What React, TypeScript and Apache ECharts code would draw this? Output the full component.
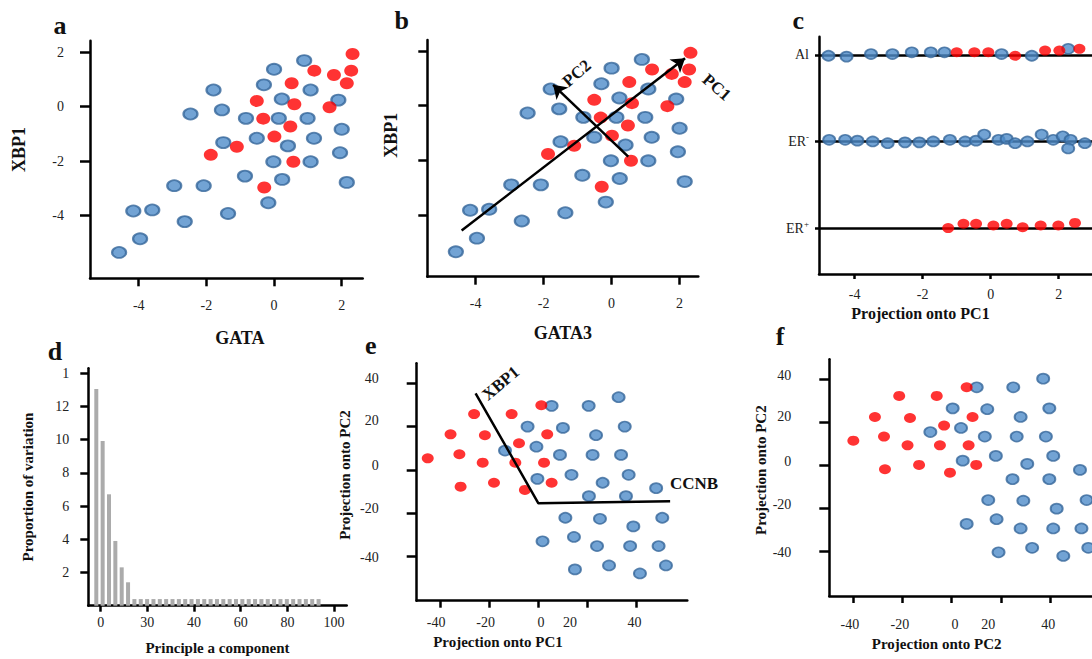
import React, { useEffect, useRef } from "react";
import * as echarts from "echarts";

const FONT = '"Liberation Serif", "Times New Roman", serif';
const BLUE = { color: "#4f8cc9", borderColor: "#36679a", borderWidth: 2 };
const RED = { color: "#ff0000" };

// ---- panel a / b : XBP1 vs GATA3 ----
const A_BLUE: [number, number][] = [
  [-4.58, -5.35], [-3.96, -4.85], [-4.16, -3.83], [-3.6, -3.79], [-2.64, -4.22], [-2.95, -2.9],
  [-2.08, -2.9], [-1.36, -3.92], [-2.47, -0.27], [-1.79, 0.61], [-1.54, -0.12], [-1.5, -1.32],
  [-0.86, -2.55], [-0.83, -0.43], [-0.51, -1.16], [-0.3, 0.8], [0.0, 1.37], [-0.02, -2.02],
  [-0.17, -3.53], [0.14, -0.43], [0.23, 0.28], [0.24, -2.67], [0.41, -1.44], [0.89, 1.69],
  [0.99, -0.43], [1.08, 0.61], [1.18, -1.16], [1.08, -2.02], [1.9, 0.24], [2.0, -0.83],
  [1.95, -1.69], [2.15, -2.78],
];
const A_RED: [number, number][] = [
  [2.32, 1.93], [2.28, 1.32], [2.15, 0.86], [1.77, 1.16], [1.19, 1.32], [1.64, -0.02],
  [0.52, 0.86], [0.6, 0.09], [0.48, -0.73], [-0.32, -0.44], [-0.51, 0.21], [0.01, -1.1],
  [0.57, -2.02], [-0.29, -2.97], [-1.1, -1.47], [-1.87, -1.77],
];
const AB_TICKS = [-4, -2, 0, 2];
const B_PC1: [number, number][] = [[-4.41, -4.57], [2.16, 1.73]];
const B_PC2: [number, number][] = [[0.49, -1.87], [-1.72, 0.76]];

// ---- panel c : projection onto PC1 by group ----
const C_ROWS = [0, 1, 2];
const C_ROW_LABELS = ["{b|ER}{s|+}", "{b|ER}{s|-}", "{b|Al}"];
const C_BLUE: [number, number][] = [
  [-4.77, 1.99], [-4.24, 1.98], [-3.52, 2.01], [-2.89, 2.01], [-2.32, 2.03], [-1.76, 2.03],
  [-1.36, 2.03], [0.32, 2.01], [1.21, 1.99], [2.28, 2.07],
  [-4.75, 1.02], [-4.28, 1.02], [-3.92, 1.01], [-3.47, 1.0], [-3.03, 0.98], [-2.52, 0.99],
  [-2.1, 0.99], [-1.69, 1.0], [-1.2, 1.02], [-0.75, 1.0], [-0.43, 1.01], [-0.19, 1.08],
  [0.23, 1.02], [0.47, 1.03], [0.72, 0.98], [1.08, 1.0], [1.5, 1.08], [1.84, 1.02],
  [2.12, 1.06], [2.35, 1.02], [2.28, 0.92], [2.77, 0.98],
];
const C_RED: [number, number][] = [
  [-1.0, 2.03], [-0.48, 2.03], [-0.07, 2.03], [0.72, 1.99], [1.6, 2.05], [2.02, 2.05], [2.61, 2.07],
  [-1.25, 0.0], [-0.8, 0.05], [-0.43, 0.05], [0.08, 0.03], [0.47, 0.05], [0.94, 0.01],
  [1.47, 0.03], [1.99, 0.03], [2.48, 0.06],
];
const C_XMIN = -5.05;
const C_XMAX = 2.98;

// ---- panel d : scree plot ----
const D_VALUES = [
  13.05, 9.92, 6.71, 3.9, 2.31, 1.41,
  0.4, 0.4, 0.4, 0.4, 0.4, 0.4, 0.4, 0.4, 0.4, 0.4,
  0.4, 0.4, 0.4, 0.4, 0.4, 0.4, 0.4, 0.4, 0.4, 0.4,
  0.4, 0.4, 0.4, 0.4, 0.4, 0.4, 0.4, 0.4, 0.4, 0.4,
];
const D_XTICKS = [1.69, 9.04, 16.39, 23.74, 31.09, 38.44];
const D_XLABELS = ["0", "30", "40", "60", "80", "100"];
const D_YTICKS = [2, 4, 6, 8, 10, 12, 14];
const D_YLABELS = ["2", "4", "6", "8", "10", "12", "1"];

// ---- panel e : projection PC1 / PC2 ----
const E_RED: [number, number][] = [
  [-45.1, 5.3], [-35.8, 16.4], [-32.2, 7.2], [-31.7, -7.8], [-26.2, 25.8], [-21.8, 16.0],
  [-22.7, 3.3], [-18.1, -6.0], [-10.9, 25.8], [-7.9, 12.3], [-9.4, 3.3], [-5.5, -9.3],
  [1.2, 29.9], [3.6, 16.4], [2.3, 3.3], [5.4, -6.0],
];
const E_BLUE: [number, number][] = [
  [5.4, 29.6], [-4.4, 20.0], [-13.6, 8.9], [-0.8, 10.7], [-0.4, -4.2], [10.0, 19.4],
  [8.8, 6.9], [13.5, -2.3], [11.0, -22.2], [1.7, -33.1], [14.5, -31.1], [14.9, -46.1],
  [20.5, 29.6], [23.5, 16.0], [22.1, 6.9], [26.2, -6.0], [20.6, -12.2], [25.1, -22.7],
  [23.9, -35.3], [28.8, -44.3], [32.7, 33.6], [35.2, 20.0], [33.7, 6.9], [36.8, -2.3],
  [35.7, -12.2], [38.7, -26.2], [37.4, -35.3], [41.4, -48.0], [48.0, -8.5], [50.5, -22.2],
  [49.0, -35.3], [52.0, -44.3],
];
const E_AXES: [number, number][] = [[-25.6, 35.4], [0.0, -15.5], [53.7, -14.6]];
const EF_TICKS = [-40, -20, 0, 20, 40];
const EF_LABELS = ["-40", "-20", "0", "20", "40"];
const E_XLABEL_POS = [-41.7, -21.5, 1.1, 12.9, 39.2];
const E_YLABEL_POS = [-40.7, -17.9, 2.2, 22.8, 42.1];

// ---- panel f ----
const F_RED: [number, number][] = [
  [-40.1, 11.5], [-31.3, 22.5], [-27.6, 13.4], [-27.2, -1.8], [-21.4, 32.3], [-17.0, 22.0],
  [-18.0, 9.3], [-13.3, 0.2], [-6.1, 32.3], [-3.1, 18.5], [-4.8, 9.3], [-0.7, -3.4],
  [6.1, 36.3], [8.5, 22.5], [6.9, 9.3], [10.0, 0.2],
];
const F_BLUE: [number, number][] = [
  [10.2, 36.3], [0.4, 26.5], [-8.7, 15.5], [3.8, 17.4], [4.5, 2.2], [14.5, 26.1],
  [13.5, 13.4], [18.0, 4.4], [14.9, -16.1], [6.1, -27.2], [18.3, -25.0], [19.1, -40.4],
  [25.1, 36.3], [28.1, 22.5], [26.5, 13.4], [30.8, 0.7], [24.8, -6.4], [29.2, -16.4],
  [28.1, -29.3], [32.8, -38.3], [37.3, 40.3], [39.8, 26.5], [38.4, 13.4], [41.4, 4.4],
  [39.8, -6.4], [42.8, -20.1], [41.4, -29.3], [45.5, -42.1], [52.3, -2.1], [55.0, -16.1],
  [52.9, -29.3], [55.7, -38.3],
];
const F_XLABEL_POS = [-41.5, -21.1, 1.3, 14.9, 39.4];
const F_YLABEL_POS = [-40.6, -18.4, 2.0, 22.6, 42.0];
const F_YLABELS = ["-40", "-20", "0", "20", "40"];

function nearest(pos: number[], labels: string[]) {
  return (v: number) => {
    let best = 0;
    for (let i = 1; i < pos.length; i++) {
      if (Math.abs(pos[i] - v) < Math.abs(pos[best] - v)) best = i;
    }
    return labels[best];
  };
}

type AxisOpts = {
  grid: number;
  min: number;
  max: number;
  ticks: number[];
  labelPos?: number[];
  labels?: string[];
  showLabels?: boolean;
  tickLen: number;
  margin: number;
  name?: string;
  nameGap?: number;
  nameSize?: number;
  namePad?: number[];
  rich?: any;
};

function axis(o: AxisOpts) {
  const labelPos = o.labelPos ?? o.ticks;
  return {
    gridIndex: o.grid,
    type: "value",
    min: o.min,
    max: o.max,
    splitLine: { show: false },
    axisLine: { show: true, onZero: false, lineStyle: { color: "#000", width: 2.5 } },
    axisTick: {
      show: true,
      customValues: o.ticks,
      length: o.tickLen,
      lineStyle: { color: "#000", width: 2.5 },
    },
    axisLabel: {
      show: o.showLabels !== false,
      customValues: labelPos,
      formatter: o.labels ? nearest(labelPos, o.labels) : undefined,
      fontFamily: FONT,
      fontSize: 14,
      color: "#222",
      margin: o.margin,
      rich: o.rich,
    },
    name: o.name,
    nameLocation: "middle",
    nameGap: o.nameGap,
    nameTextStyle: {
      fontFamily: FONT,
      fontWeight: "bold",
      fontSize: o.nameSize ?? 15,
      color: "#111",
      padding: o.namePad ?? 0,
    },
  };
}

function scatter(data: [number, number][], idx: number, style: any, size: number[]) {
  return {
    type: "scatter",
    xAxisIndex: idx,
    yAxisIndex: idx,
    data,
    symbol: "circle",
    symbolSize: size,
    itemStyle: style,
    z: 3,
    silent: true,
  };
}

function label(text: string, x: number, y: number, size: number, rotation = 0) {
  return {
    type: "text",
    x,
    y,
    rotation,
    z: 10,
    style: {
      text,
      fill: "#111",
      fontFamily: FONT,
      fontWeight: "bold",
      fontSize: size,
      align: "center",
      verticalAlign: "middle",
      textAlign: "center",
      textVerticalAlign: "middle",
    },
  };
}

const BLUE_SM = { ...BLUE, borderWidth: 1.8 };

const option: any = {
  animation: false,
  backgroundColor: "#fff",
  textStyle: { fontFamily: FONT },
  grid: [
    { left: 90, top: 40.7, width: 272.7, height: 237.6 },
    { left: 427.3, top: 40, width: 271, height: 236.7 },
    { left: 819, top: 36.7, width: 273, height: 237.3 },
    { left: 88.3, top: 368.3, width: 258.4, height: 237.4 },
    { left: 416.7, top: 363.3, width: 270.6, height: 237.4 },
    { left: 829.3, top: 359.3, width: 262.7, height: 236.7 },
  ],
  xAxis: [
    axis({ grid: 0, min: -5.44, max: 2.62, ticks: AB_TICKS, tickLen: 8, margin: 20, name: "GATA", nameGap: 51, nameSize: 18, namePad: [0, 0, 0, 27] }),
    axis({ grid: 1, min: -5.42, max: 2.55, ticks: AB_TICKS, tickLen: 8, margin: 20, name: "GATA3", nameGap: 47, nameSize: 18 }),
    axis({ grid: 2, min: C_XMIN, max: C_XMAX, ticks: AB_TICKS, tickLen: 5, margin: 13, name: "Projection onto PC1", nameGap: 31, nameSize: 16, namePad: [0, 70, 0, 0] }),
    axis({ grid: 3, min: -0.26, max: 40.43, ticks: D_XTICKS, labels: D_XLABELS, tickLen: 6, margin: 10, name: "Principle a component", nameGap: 35, nameSize: 15 }),
    axis({ grid: 4, min: -49.6, max: 60.7, ticks: EF_TICKS, labelPos: E_XLABEL_POS, labels: EF_LABELS, tickLen: 7, margin: 15, name: "Projection onto PC1", nameGap: 34, nameSize: 15, namePad: [0, 108, 0, 0] }),
    axis({ grid: 5, min: -49.9, max: 57.2, ticks: EF_TICKS, labelPos: F_XLABEL_POS, labels: EF_LABELS, tickLen: 7, margin: 21, name: "Projection onto PC2", nameGap: 40, nameSize: 15, namePad: [0, 48, 0, 0] }),
  ],
  yAxis: [
    axis({ grid: 0, min: -6.3, max: 2.42, ticks: AB_TICKS, tickLen: 10, margin: 26, name: "XBP1", nameGap: 62, nameSize: 18, namePad: [0, 0, 0, 20] }),
    axis({ grid: 1, min: -6.26, max: 2.4, ticks: AB_TICKS, showLabels: false, tickLen: 9, margin: 12, name: "XBP1", nameGap: 27, nameSize: 18, namePad: [0, 0, 0, 46] }),
    axis({
      grid: 2, min: -0.53, max: 2.21, ticks: C_ROWS, labels: C_ROW_LABELS, tickLen: 4, margin: 10,
      rich: { b: { fontFamily: FONT, fontSize: 14, color: "#222" }, s: { fontFamily: FONT, fontSize: 9, color: "#222", padding: [0, 0, 9, 0] } },
    }),
    axis({ grid: 3, min: 0, max: 14.3, ticks: D_YTICKS, labels: D_YLABELS, tickLen: 8, margin: 19, name: "Proportion of variation", nameGap: 53, nameSize: 15 }),
    axis({ grid: 4, min: -60.6, max: 49.3, ticks: EF_TICKS, labelPos: E_YLABEL_POS, labels: EF_LABELS, tickLen: 10, margin: 38, name: "Projection onto PC2", nameGap: 64, nameSize: 15, namePad: [0, 0, 0, 14] }),
    axis({ grid: 5, min: -60.7, max: 49.3, ticks: EF_TICKS, labelPos: F_YLABEL_POS, labels: F_YLABELS, tickLen: 10, margin: 38, name: "Projection onto PC2", nameGap: 57, nameSize: 15, namePad: [0, 0, 0, 15] }),
  ],
  series: [
    scatter(A_BLUE, 0, BLUE, [14, 11]),
    scatter(A_RED, 0, RED, [14, 12]),
    scatter(A_BLUE, 1, BLUE, [14, 11]),
    scatter(A_RED, 1, RED, [14, 12]),
    {
      type: "lines",
      coordinateSystem: "cartesian2d",
      xAxisIndex: 1,
      yAxisIndex: 1,
      symbol: ["none", "arrow"],
      symbolSize: 13,
      lineStyle: { color: "#000", width: 2.5, opacity: 1 },
      data: [{ coords: B_PC1 }, { coords: B_PC2 }],
      z: 5,
      silent: true,
    },
    {
      type: "lines",
      coordinateSystem: "cartesian2d",
      xAxisIndex: 2,
      yAxisIndex: 2,
      lineStyle: { color: "#000", width: 2.5, opacity: 1 },
      data: C_ROWS.map((r) => ({ coords: [[C_XMIN, r], [C_XMAX, r]] })),
      z: 1,
      silent: true,
    },
    scatter(C_BLUE, 2, BLUE_SM, [12, 10]),
    scatter(C_RED, 2, RED, [12, 10]),
    {
      type: "bar",
      xAxisIndex: 3,
      yAxisIndex: 3,
      barWidth: 4,
      itemStyle: { color: "#ababab" },
      data: D_VALUES.map((v, i) => [i + 1, v]),
      silent: true,
    },
    scatter(E_BLUE, 4, BLUE_SM, [12, 10]),
    scatter(E_RED, 4, RED, [12, 10]),
    {
      type: "line",
      xAxisIndex: 4,
      yAxisIndex: 4,
      data: E_AXES,
      symbol: "none",
      lineStyle: { color: "#000", width: 2.5 },
      z: 5,
      silent: true,
    },
    scatter(F_BLUE, 5, BLUE_SM, [12, 10]),
    scatter(F_RED, 5, RED, [12, 10]),
  ],
  graphic: [
    label("a", 60, 25, 26),
    label("b", 401.7, 20, 26),
    label("c", 798.3, 20, 26),
    label("d", 55, 351.7, 26),
    label("e", 370.7, 345, 26),
    label("f", 780, 336.7, 26),
    label("PC2", 576.7, 73.3, 17, 0.72),
    label("PC1", 716.7, 87.3, 17, -0.72),
    label("XBP1", 500.7, 383.3, 17, 0.7),
    label("CCNB", 694, 483.3, 17),
  ],
};

export default function App() {
  const ref = useRef<HTMLDivElement>(null);
  useEffect(() => {
    const chart = echarts.init(ref.current!, null, { renderer: "svg" });
    chart.setOption(option);
    return () => chart.dispose();
  }, []);
  return (
    <div
      ref={ref}
      style={{ position: "absolute", left: 0, top: 0, width: 1092, height: 659, background: "#fff" }}
    />
  );
}
